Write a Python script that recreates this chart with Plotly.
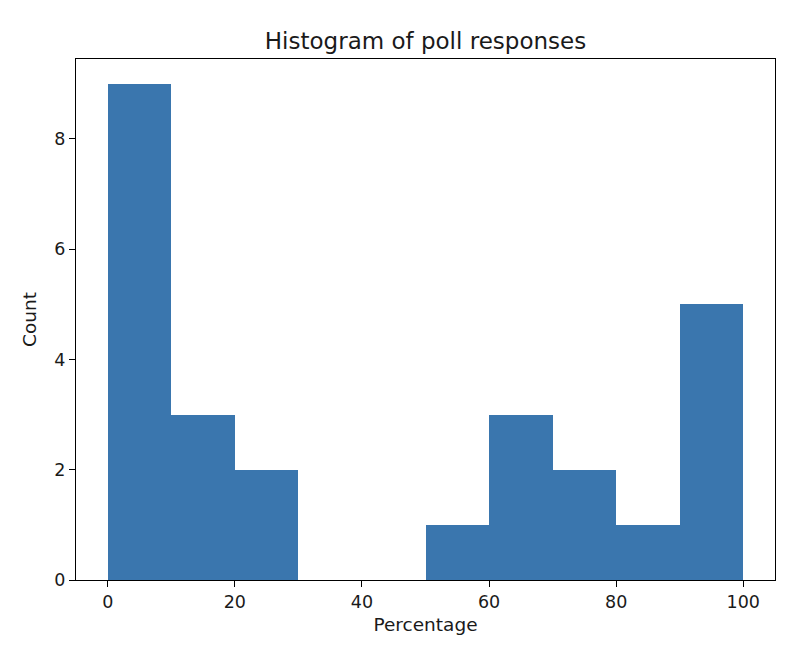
import plotly.graph_objects as go

bin_starts = [0, 10, 20, 30, 40, 50, 60, 70, 80, 90]
bin_width = 10
counts = [9, 3, 2, 0, 0, 1, 3, 2, 1, 5]
x_ticks = [0, 20, 40, 60, 80, 100]
y_ticks = [0, 2, 4, 6, 8]

centers = [s + bin_width / 2 for s in bin_starts]

fig = go.Figure(go.Bar(
    x=centers, y=counts, width=[bin_width] * len(counts),
    marker=dict(color="#3a76ae", line=dict(width=0)),
))

axis_common = dict(
    showline=True, linecolor="black", linewidth=1.2, mirror=True,
    ticks="outside", ticklen=6, tickwidth=1.2, tickcolor="black",
    showgrid=False, zeroline=False,
    tickfont=dict(family="DejaVu Sans", size=17.5, color="#1a1a1a"),
)

fig.update_layout(
    width=810, height=654,
    margin=dict(l=68, r=43, t=51, b=82),
    paper_bgcolor="white", plot_bgcolor="white",
    title=dict(text="Histogram of poll responses", x=0.5, xanchor="center",
               xref="paper", y=1 - 32.5 / 654, yanchor="middle",
               font=dict(family="DejaVu Sans", size=23, color="#1a1a1a")),
    xaxis=dict(range=[-5, 105], tickvals=x_ticks,
               title=dict(text="Percentage", standoff=6,
                          font=dict(family="DejaVu Sans", size=18.5, color="#1a1a1a")),
               **axis_common),
    yaxis=dict(range=[0, 9.45], tickvals=y_ticks,
               title=dict(text="Count", standoff=12,
                          font=dict(family="DejaVu Sans", size=18.5, color="#1a1a1a")),
               **axis_common),
    bargap=0, showlegend=False,
)

fig.write_html("out.html")
